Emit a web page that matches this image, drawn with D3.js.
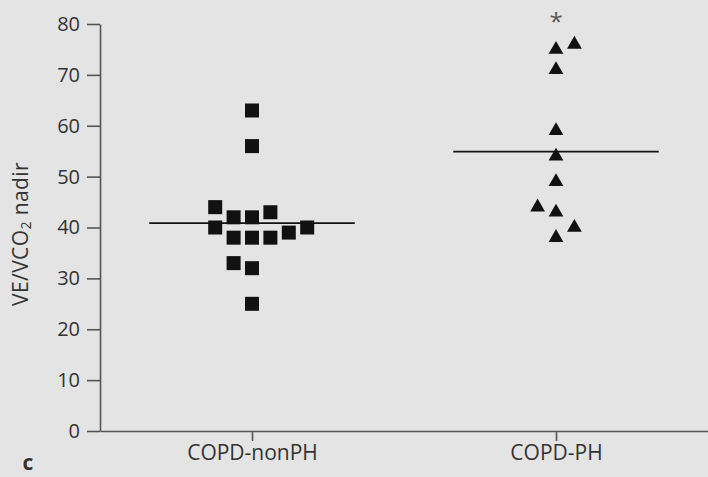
<!DOCTYPE html>
<html>
<head>
<meta charset="utf-8">
<script src="https://cdn.jsdelivr.net/npm/d3@7"></script>
<style>
  body { margin: 0; background: #e4e4e4; }
  svg { display: block; }
</style>
</head>
<body>
<svg id="chart" width="708" height="477"></svg>
<script>
// groups on the x axis
var groups = ["COPD-nonPH", "COPD-PH"];

// VE/VCO2 nadir values
var nonPHValues = [63, 56, 44, 42, 42, 43, 40, 38, 38, 38, 39, 40, 33, 32, 25];
var phValues = [75, 76, 71, 59, 54, 49, 44, 43, 40, 38];

// dot-plot column slot of each point (to avoid overlap)
var nonPHSlot = [0, 0, -2, -1, 0, 1, -2, -1, 0, 1, 2, 3, -1, 0, 0];
var phSlot = [0, 1, 0, 0, 0, 0, -1, 0, 1, 0];

var yTicks = [0, 10, 20, 30, 40, 50, 60, 70, 80];

var svg = d3.select("#chart");
var W = 708, H = 477;
var margin = {top: 24, right: 0, bottom: 46, left: 100};
var font = "'Open Sans', 'Noto Sans', sans-serif";
var textCol = "#333";
var axisCol = "#555";

svg.append("rect").attr("width", W).attr("height", H).attr("fill", "#e4e4e4");

var x = d3.scalePoint().domain(groups).range([margin.left, W - margin.right]).padding(0.5);
var y = d3.scaleLinear().domain([0, 80]).range([H - margin.bottom, margin.top]);
var slot = d3.scaleLinear().domain([0, 1]).range([0, 18.4]);

// y axis
var gy = svg.append("g")
    .attr("transform", "translate(" + margin.left + ",0)")
    .call(d3.axisLeft(y).tickValues(yTicks).tickSize(13).tickSizeOuter(0).tickPadding(7));
gy.select(".domain").attr("stroke", axisCol).attr("stroke-width", 1.6);
gy.selectAll(".tick line").attr("stroke", axisCol).attr("stroke-width", 1.6);
gy.selectAll(".tick text").attr("fill", textCol).style("font-family", font).style("font-size", "20px");

// x axis
var gx = svg.append("g")
    .attr("transform", "translate(0," + y(0) + ")")
    .call(d3.axisBottom(x).tickSize(10).tickSizeOuter(0).tickPadding(4));
gx.select(".domain").attr("stroke", axisCol).attr("stroke-width", 1.6);
gx.selectAll(".tick line").attr("stroke", axisCol).attr("stroke-width", 1.6);
gx.selectAll(".tick text").attr("fill", textCol).style("font-family", font).style("font-size", "21px");

// y axis title
var yt = svg.append("text")
    .attr("transform", "translate(28,234) rotate(-90)")
    .attr("text-anchor", "middle")
    .attr("fill", textCol)
    .style("font-family", font)
    .style("font-size", "21px")
    .style("letter-spacing", "0.4px");
yt.append("tspan").text("VE/VCO");
yt.append("tspan").attr("font-size", "14px").attr("dy", "3").text("2");
yt.append("tspan").attr("dy", "-3").text(" nadir");

// panel letter
svg.append("text")
    .attr("x", 28).attr("y", 470)
    .attr("text-anchor", "middle")
    .attr("fill", textCol)
    .style("font-family", font)
    .style("font-size", "21px")
    .style("font-weight", "bold")
    .text("c");

// mean lines
var half = x.step() * 0.338;
[[groups[0], nonPHValues], [groups[1], phValues]].forEach(function(g) {
    var m = d3.mean(g[1]);
    svg.append("line")
        .attr("x1", x(g[0]) - half).attr("x2", x(g[0]) + half)
        .attr("y1", y(m)).attr("y2", y(m))
        .attr("stroke", "#111").attr("stroke-width", 1.8);
});

// squares: COPD-nonPH
var sq = 14;
svg.append("g").selectAll("rect")
    .data(nonPHValues)
    .enter().append("rect")
    .attr("x", function(d, i) { return x(groups[0]) + slot(nonPHSlot[i]) - sq / 2; })
    .attr("y", function(d) { return y(d) - sq / 2; })
    .attr("width", sq).attr("height", sq)
    .attr("fill", "#111");

// triangles: COPD-PH
var tri = d3.symbol().type(d3.symbolTriangle).size(95);
svg.append("g").selectAll("path")
    .data(phValues)
    .enter().append("path")
    .attr("d", tri)
    .attr("transform", function(d, i) {
        return "translate(" + (x(groups[1]) + slot(phSlot[i])) + "," + y(d) + ")";
    })
    .attr("fill", "#111");

// significance marker
svg.append("text")
    .attr("x", x(groups[1])).attr("y", 30)
    .attr("text-anchor", "middle")
    .attr("fill", "#555")
    .style("font-family", font)
    .style("font-size", "24px")
    .text("*");
</script>
</body>
</html>
